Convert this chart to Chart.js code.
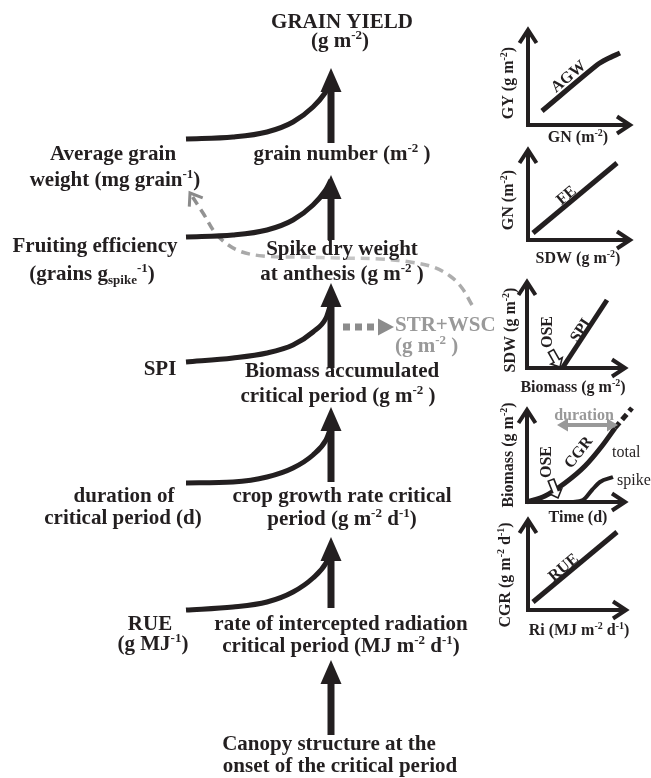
<!DOCTYPE html>
<html>
<head>
<meta charset="utf-8">
<script src="https://cdn.jsdelivr.net/npm/chart.js@4.4.1/dist/chart.umd.min.js"></script>
<style>
  html, body { margin: 0; padding: 0; background: #ffffff; }
  #diagram { display: block; }
</style>
</head>
<body>
<canvas id="diagram" width="651" height="778"></canvas>
<script>
// Schéma výnosu zrna: hodnoty v jednotkách obrázku (x doprava, y dolů)
const INK = '#231f20';
const GREY = '#999999';

// hlavní osa - šipky nahoru (spodní a horní konec dříku)
const spineX = 331;
const spineBottom = [143, 240, 368, 482, 608, 735];
const spineTop = [92, 199, 307, 431, 561, 684];

// křivky, které se napojují na hlavní osu
const agwCurve = [[186, 139], [233, 137], [267, 132], [293, 122], [313, 107], [325, 93], [331, 82]];
const feCurve = [[186, 237], [233, 235], [267, 230], [293, 220], [313, 205], [325, 191], [331, 180]];
const spiCurve = [[186, 362], [233, 358], [267, 353], [293, 345], [313, 332], [326, 318], [331, 303]];
const durationCurve = [[186, 483], [233, 482], [267, 477], [293, 468], [313, 455], [326, 440], [331, 427]];
const rueCurve = [[186, 610], [233, 607], [267, 602], [293, 592], [313, 578], [326, 563], [331, 551]];

// přerušovaná šedá šipka STR+WSC -> hmotnost zrna
const strPath = [[472, 305], [462, 288], [450, 276], [433, 267], [410, 262], [380, 259], [337, 258],
  [303, 257], [263, 256], [237, 250], [217, 235], [203, 213], [190, 193]];
const strArrow = [[343, 327], [378, 327]];

// malé grafy vpravo: osy (vrchol osy y, počátek, konec osy x)
const panelAxes = [
  [[528, 30], [528, 125], [630, 125]],
  [[528, 150], [528, 240], [630, 240]],
  [[527, 282], [527, 368], [625, 368]],
  [[527, 410], [527, 502], [625, 502]],
  [[528, 520], [528, 610], [626, 610]]
];
const gyVsGn = [[542, 111], [597, 65], [607, 59], [620, 53]];
const gnVsSdw = [[533, 233], [617, 163]];
const sdwVsBiomass = [[563, 367], [607, 300]];
const totalBiomass = [[527, 502], [545, 496], [565, 483], [585, 466], [602, 446], [615, 428]];
const totalBiomassLate = [[615, 428], [632, 408]];
const spikeBiomass = [[572, 502], [583, 500], [592, 490], [600, 482], [613, 477]];
const cgrVsRi = [[533, 602], [617, 532]];
const durationSpan = [[568, 425], [607, 425]];

// OSE - duté šipky (začátek, hrot)
const oseArrows = [
  [[551, 351], [560, 367]],
  [[551, 480], [558, 498]]
];

// popisky: text, x, y (účaří), velikost, další volby
const labels = [
  { t: 'GRAIN YIELD', x: 342, y: 28 },
  { t: '(g m^{-2})', x: 340, y: 47 },
  { t: 'grain number (m^{-2} )', x: 342, y: 160 },
  { t: 'Average grain', x: 113, y: 160 },
  { t: 'weight (mg grain^{-1})', x: 115, y: 186 },
  { t: 'Fruiting efficiency', x: 95, y: 252 },
  { t: '(grains g_{spike}^{-1})', x: 92, y: 280 },
  { t: 'Spike dry weight', x: 342, y: 255 },
  { t: 'at anthesis (g m^{-2} )', x: 342, y: 280 },
  { t: 'STR+WSC', x: 395, y: 331, align: 'left', color: GREY },
  { t: '(g m^{-2} )', x: 395, y: 352, align: 'left', color: GREY },
  { t: 'SPI', x: 160, y: 375 },
  { t: 'Biomass accumulated', x: 342, y: 377 },
  { t: 'critical period (g m^{-2} )', x: 338, y: 402 },
  { t: 'duration of', x: 124, y: 502 },
  { t: 'critical period (d)', x: 123, y: 524 },
  { t: 'crop growth rate critical', x: 342, y: 502 },
  { t: 'period (g m^{-2} d^{-1})', x: 342, y: 525 },
  { t: 'RUE', x: 150, y: 630 },
  { t: '(g MJ^{-1})', x: 153, y: 650 },
  { t: 'rate of intercepted radiation', x: 341, y: 630 },
  { t: 'critical period (MJ m^{-2} d^{-1})', x: 341, y: 652 },
  { t: 'Canopy structure at the', x: 329, y: 750 },
  { t: 'onset of the critical period', x: 340, y: 772 },
  // malé grafy
  { t: 'GY (g m^{-2})', x: 508, y: 83, size: 16, rot: -90, mid: true },
  { t: 'GN (m^{-2})', x: 578, y: 142, size: 16 },
  { t: 'AGW', x: 568, y: 76, size: 16, rot: -40, mid: true },
  { t: 'GN (m^{-2})', x: 508, y: 200, size: 16, rot: -90, mid: true },
  { t: 'SDW (g m^{-2})', x: 578, y: 263, size: 16 },
  { t: 'FE', x: 566, y: 195, size: 16, rot: -40, mid: true },
  { t: 'SDW (g m^{-2})', x: 510, y: 330, size: 16, rot: -90, mid: true },
  { t: 'Biomass (g m^{-2})', x: 573, y: 392, size: 16 },
  { t: 'SPI', x: 580, y: 330, size: 16, rot: -57, mid: true },
  { t: 'OSE', x: 547, y: 332, size: 16, rot: -90, mid: true },
  { t: 'Biomass (g m^{-2})', x: 508, y: 455, size: 16, rot: -90, mid: true },
  { t: 'Time (d)', x: 578, y: 522, size: 16 },
  { t: 'duration', x: 584, y: 420, size: 16, color: GREY },
  { t: 'CGR', x: 578, y: 452, size: 16, rot: -52, mid: true },
  { t: 'OSE', x: 546, y: 462, size: 16, rot: -90, mid: true },
  { t: 'total', x: 612, y: 457, size: 16, bold: false, align: 'left' },
  { t: 'spike', x: 617, y: 485, size: 16, bold: false, align: 'left' },
  { t: 'CGR (g m^{-2} d^{-1})', x: 505, y: 575, size: 16, rot: -90, mid: true },
  { t: 'Ri (MJ m^{-2} d^{-1})', x: 579, y: 635, size: 16 },
  { t: 'RUE', x: 563, y: 567, size: 16, rot: -40, mid: true }
];

const FONT = '"Liberation Serif", "Times New Roman", serif';

function toPts(arr) {
  return arr.map(([x, y]) => ({ x, y }));
}

function lineSet(points, opts) {
  return Object.assign({
    data: toPts(points),
    showLine: true,
    pointRadius: 0,
    borderColor: INK,
    borderWidth: 5,
    borderCapStyle: 'butt',
    tension: 0,
    fill: false,
    clip: false
  }, opts);
}

// sestavení datových sad
const datasets = [];
const curve = { cubicInterpolationMode: 'monotone', borderWidth: 5 };
[agwCurve, feCurve, spiCurve, durationCurve, rueCurve].forEach(c => datasets.push(lineSet(c, curve)));
spineBottom.forEach((b, i) => {
  datasets.push(lineSet([[spineX, b], [spineX, spineTop[i]]], {
    borderWidth: 7,
    headEnd: { type: 'solid', len: 24, width: 21 }
  }));
});

datasets.push(lineSet(strPath, {
  borderWidth: 3.5,
  borderDash: [9, 6],
  tension: 0.35,
  borderColor: c => {
    const ch = c.chart;
    if (!ch.chartArea) return '#aaaaaa';
    const xs = ch.scales.x;
    const g = ch.ctx.createLinearGradient(xs.getPixelForValue(188), 0, xs.getPixelForValue(472), 0);
    g.addColorStop(0, '#8a8a8a');
    g.addColorStop(0.45, '#cfcfcf');
    g.addColorStop(1, '#a8a8a8');
    return g;
  },
  headEnd: { type: 'open', len: 11, width: 16, lw: 3, color: '#8a8a8a' }
}));
datasets.push(lineSet(strArrow, {
  borderWidth: 7,
  borderDash: [7, 5],
  borderColor: '#8c8c8c',
  headEnd: { type: 'solid', len: 16, width: 17 }
}));

panelAxes.forEach(a => datasets.push(lineSet(a, {
  borderWidth: 4,
  headStart: { type: 'open', len: 13, width: 17, lw: 4 },
  headEnd: { type: 'open', len: 13, width: 17, lw: 4 }
})));
datasets.push(lineSet(gyVsGn, { tension: 0.3 }));
datasets.push(lineSet(gnVsSdw));
datasets.push(lineSet(sdwVsBiomass));
datasets.push(lineSet(totalBiomass, { cubicInterpolationMode: 'monotone' }));
datasets.push(lineSet(totalBiomassLate, { borderDash: [7, 4] }));
datasets.push(lineSet(spikeBiomass, { cubicInterpolationMode: 'monotone', borderWidth: 4 }));
datasets.push(lineSet(cgrVsRi));
datasets.push(lineSet(durationSpan, {
  borderWidth: 4,
  borderColor: GREY,
  headStart: { type: 'solid', len: 11, width: 13 },
  headEnd: { type: 'solid', len: 11, width: 13 }
}));

// hrot šipky na konci úsečky from -> to
function drawHead(ctx, from, to, spec, color) {
  const dx = to.x - from.x, dy = to.y - from.y;
  const d = Math.hypot(dx, dy) || 1;
  const ux = dx / d, uy = dy / d, px = -uy, py = ux;
  const hw = spec.width / 2;
  ctx.save();
  if (spec.type === 'solid') {
    const tx = to.x + ux * spec.len, ty = to.y + uy * spec.len;
    ctx.fillStyle = color;
    ctx.beginPath();
    ctx.moveTo(tx, ty);
    ctx.lineTo(to.x + px * hw, to.y + py * hw);
    ctx.lineTo(to.x - px * hw, to.y - py * hw);
    ctx.closePath();
    ctx.fill();
  } else {
    const bx = to.x - ux * spec.len, by = to.y - uy * spec.len;
    ctx.strokeStyle = color;
    ctx.lineWidth = spec.lw || 3;
    ctx.lineJoin = 'miter';
    ctx.lineCap = 'butt';
    ctx.beginPath();
    ctx.moveTo(bx + px * hw, by + py * hw);
    ctx.lineTo(to.x, to.y);
    ctx.lineTo(bx - px * hw, by - py * hw);
    ctx.stroke();
  }
  ctx.restore();
}

const arrowHeads = {
  id: 'arrowHeads',
  afterDatasetsDraw(chart) {
    const ctx = chart.ctx;
    chart.data.datasets.forEach((ds, i) => {
      const pts = chart.getDatasetMeta(i).data;
      if (pts.length < 2) return;
      const col = typeof ds.borderColor === 'string' ? ds.borderColor : INK;
      if (ds.headEnd) drawHead(ctx, pts[pts.length - 2], pts[pts.length - 1], ds.headEnd, ds.headEnd.color || col);
      if (ds.headStart) drawHead(ctx, pts[1], pts[0], ds.headStart, ds.headStart.color || col);
    });
  }
};

// duté šipky OSE
const hollowArrows = {
  id: 'hollowArrows',
  afterDatasetsDraw(chart) {
    const ctx = chart.ctx, xs = chart.scales.x, ys = chart.scales.y;
    oseArrows.forEach(([s, t]) => {
      const sx = xs.getPixelForValue(s[0]), sy = ys.getPixelForValue(s[1]);
      const tx = xs.getPixelForValue(t[0]), ty = ys.getPixelForValue(t[1]);
      const d = Math.hypot(tx - sx, ty - sy);
      ctx.save();
      ctx.translate(sx, sy);
      ctx.rotate(Math.atan2(ty - sy, tx - sx));
      const hl = 7, sw = 3, hw = 6.5;
      ctx.beginPath();
      ctx.moveTo(0, -sw);
      ctx.lineTo(d - hl, -sw);
      ctx.lineTo(d - hl, -hw);
      ctx.lineTo(d, 0);
      ctx.lineTo(d - hl, hw);
      ctx.lineTo(d - hl, sw);
      ctx.lineTo(0, sw);
      ctx.closePath();
      ctx.fillStyle = '#ffffff';
      ctx.fill();
      ctx.strokeStyle = INK;
      ctx.lineWidth = 1.6;
      ctx.stroke();
      ctx.restore();
    });
  }
};

// text s horními a dolními indexy: ^{..} a _{..}
function parseRich(str) {
  const parts = [];
  const re = /([\^_])\{([^}]*)\}/g;
  let last = 0, m;
  while ((m = re.exec(str))) {
    if (m.index > last) parts.push({ t: str.slice(last, m.index), k: 'n' });
    parts.push({ t: m[2], k: m[1] === '^' ? 'sup' : 'sub' });
    last = re.lastIndex;
  }
  if (last < str.length) parts.push({ t: str.slice(last), k: 'n' });
  return parts;
}

function drawLabel(ctx, lab, px, py) {
  const size = lab.size || 21;
  const weight = lab.bold === false ? '' : 'bold ';
  const parts = parseRich(lab.t);
  const fontFor = k => weight + (k === 'n' ? size : Math.round(size * 0.62)) + 'px ' + FONT;
  let w = 0;
  parts.forEach(p => { ctx.font = fontFor(p.k); p.w = ctx.measureText(p.t).width; w += p.w; });
  ctx.save();
  ctx.translate(px, py);
  if (lab.rot) ctx.rotate(lab.rot * Math.PI / 180);
  ctx.fillStyle = lab.color || INK;
  ctx.textBaseline = 'alphabetic';
  ctx.textAlign = 'left';
  let x = lab.align === 'left' ? 0 : -w / 2;
  const base = lab.mid ? size * 0.33 : 0;
  parts.forEach(p => {
    ctx.font = fontFor(p.k);
    const dy = p.k === 'sup' ? -size * 0.38 : p.k === 'sub' ? size * 0.2 : 0;
    ctx.fillText(p.t, x, base + dy);
    x += p.w;
  });
  ctx.restore();
}

const textLabels = {
  id: 'textLabels',
  afterDraw(chart) {
    const ctx = chart.ctx, xs = chart.scales.x, ys = chart.scales.y;
    labels.forEach(l => drawLabel(ctx, l, xs.getPixelForValue(l.x), ys.getPixelForValue(l.y)));
  }
};

new Chart(document.getElementById('diagram'), {
  type: 'scatter',
  data: { datasets },
  options: {
    responsive: false,
    devicePixelRatio: 1,
    animation: false,
    layout: { padding: 0 },
    plugins: { legend: { display: false }, tooltip: { enabled: false } },
    events: [],
    scales: {
      x: { type: 'linear', min: 0, max: 651, display: false },
      y: { type: 'linear', min: 0, max: 778, reverse: true, display: false }
    }
  },
  plugins: [arrowHeads, hollowArrows, textLabels]
});
</script>
</body>
</html>
